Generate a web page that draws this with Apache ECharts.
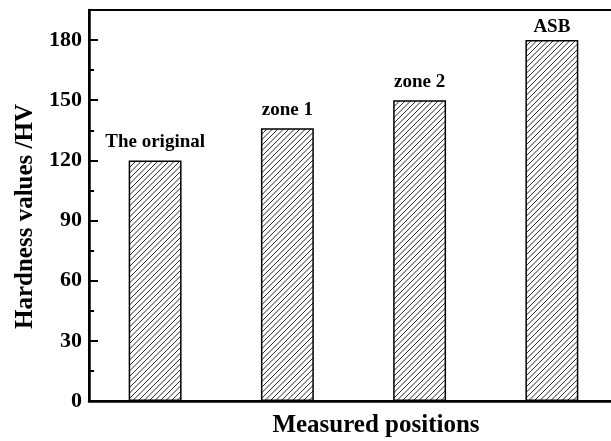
<!DOCTYPE html>
<html>
<head>
<meta charset="utf-8">
<script src="https://cdn.jsdelivr.net/npm/echarts/dist/echarts.min.js"></script>
<style>
  html, body { margin: 0; padding: 0; background: #fff; }
  #container { width: 611px; height: 441px; }
</style>
</head>
<body>
<div id="container"></div>
<script>
var categories = ['The original', 'zone 1', 'zone 2', 'ASB'];
var hardness = [120, 136, 150, 180];
var yTicks = [0, 30, 60, 90, 120, 150, 180];

var serif = "'Liberation Serif', 'Times New Roman', serif";

// diagonal hatch like the original plot
function hatch() {
    var c = document.createElement('canvas');
    var s = 11;
    c.width = s; c.height = s;
    var ctx = c.getContext('2d');
    ctx.fillStyle = '#fff';
    ctx.fillRect(0, 0, s, s);
    ctx.strokeStyle = '#111';
    ctx.lineWidth = 0.9;
    var offs = [-s, -s / 2, 0, s / 2, s];
    for (var i = 0; i < offs.length; i++) {
        var o = offs[i];
        ctx.beginPath();
        ctx.moveTo(o - 1, s + 1);
        ctx.lineTo(o + s + 1, -1);
        ctx.stroke();
    }
    return c;
}

var dom = document.getElementById('container');
var myChart = echarts.init(dom);

var barData = hardness.map(function (v, i) {
    if (i === hardness.length - 1) {
        return { value: v, label: { distance: 3 } };
    }
    return v;
});

var option = {
    backgroundColor: '#fff',
    animation: false,
    grid: {
        left: 89, top: 10, right: -7, bottom: 40,
        outerBoundsMode: 'none',
        show: true,
        borderColor: '#000',
        borderWidth: 2
    },
    xAxis: [{
        type: 'category',
        data: categories,
        position: 'bottom',
        name: 'Measured positions',
        nameLocation: 'middle',
        nameGap: 12,
        nameTextStyle: {
            fontFamily: serif, fontWeight: 'bold', fontSize: 25, color: '#000',
            padding: [0, 0, 0, 45],
            verticalAlign: 'top'
        },
        axisLine: { lineStyle: { color: '#000', width: 2.5 } },
        axisTick: { inside: true, alignWithLabel: true, length: 8, lineStyle: { color: '#000', width: 2 } },
        axisLabel: { show: false }
    }, {
        type: 'category',
        data: categories,
        position: 'bottom',
        axisLine: { show: false },
        axisTick: { inside: true, length: 5, lineStyle: { color: '#000', width: 2 } },
        axisLabel: { show: false }
    }],
    yAxis: [{
        type: 'value',
        min: 0,
        max: 195,
        interval: 30,
        position: 'left',
        name: 'Hardness values /HV',
        nameLocation: 'middle',
        nameGap: 50,
        nameTextStyle: {
            fontFamily: serif, fontWeight: 'bold', fontSize: 25, color: '#000',
            padding: [0, 22, 0, 0]
        },
        axisLine: { show: true, lineStyle: { color: '#000', width: 2.5 } },
        axisTick: { show: true, inside: true, length: 9, lineStyle: { color: '#000', width: 2 } },
        axisLabel: {
            fontFamily: serif, fontWeight: 'bold', fontSize: 22, color: '#000',
            margin: 7,
            showMaxLabel: false,
            formatter: function (v) { return yTicks.indexOf(v) >= 0 ? String(v) : ''; }
        },
        splitLine: { show: false }
    }, {
        type: 'value',
        min: 0,
        max: 195,
        interval: 15,
        position: 'left',
        axisLine: { show: false },
        axisTick: { show: true, inside: true, length: 5, lineStyle: { color: '#000', width: 2 } },
        axisLabel: { show: false },
        splitLine: { show: false }
    }],
    series: [{
        type: 'bar',
        xAxisIndex: 0,
        yAxisIndex: 0,
        barWidth: '40%',
        data: barData,
        itemStyle: {
            color: { image: hatch(), repeat: 'repeat' },
            borderColor: '#000',
            borderWidth: 1.5
        },
        label: {
            show: true,
            position: 'top',
            distance: 9,
            formatter: '{b}',
            fontFamily: serif,
            fontWeight: 'bold',
            fontSize: 19,
            color: '#000'
        }
    }]
};

if (option && typeof option === 'object') {
    myChart.setOption(option, true);
}
</script>
</body>
</html>
